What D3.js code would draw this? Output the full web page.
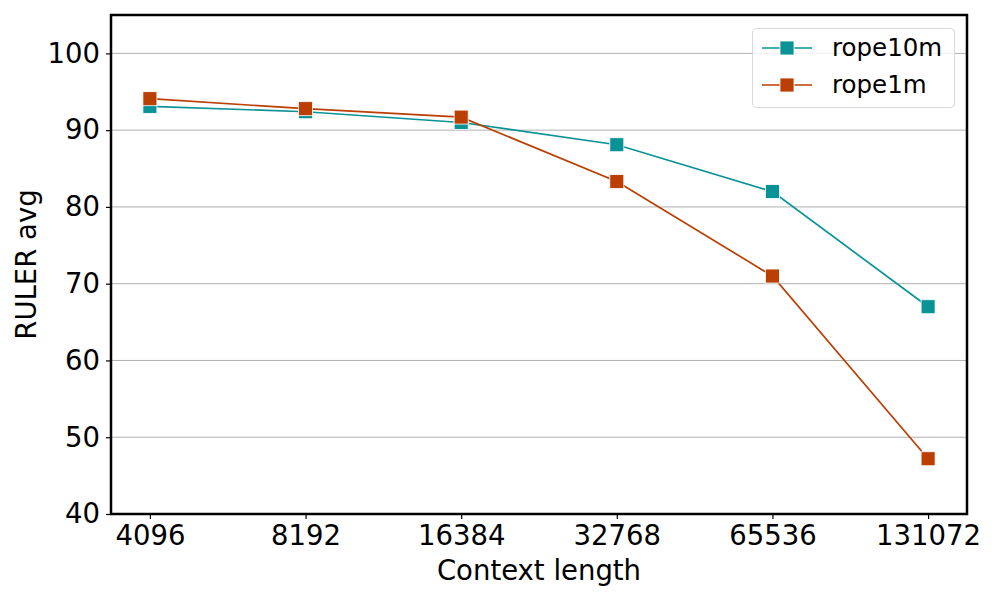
<!DOCTYPE html>
<html><head><meta charset="utf-8">
<script src="https://cdn.jsdelivr.net/npm/d3@7"></script>
<style>body{margin:0;background:#fff;} text{font-family:"DejaVu Sans",sans-serif;}</style>
</head><body>
<svg id="c" width="1000" height="600"></svg>
<script>
const contextLengths = [4096, 8192, 16384, 32768, 65536, 131072];
const rope10m = [93.1, 92.4, 91.0, 88.1, 82.0, 67.0];
const rope1m = [94.1, 92.8, 91.7, 83.3, 71.0, 47.2];
const seriesNames = ["rope10m", "rope1m"];
const seriesColors = ["#0a9396", "#bb3e03"];
const yTicks = [40, 50, 60, 70, 80, 90, 100];

const svg = d3.select("#c");
const L = 111, R = 967, T = 15, B = 514;
const FS = 27.5;
const x = d3.scaleLog().base(2).domain([Math.pow(2, 11.75), Math.pow(2, 17.25)]).range([L, R]);
const y = d3.scaleLinear().domain([40, 105]).range([B, T]);

// grid
svg.append("g").selectAll("line").data(yTicks).join("line")
  .attr("x1", L).attr("x2", R).attr("y1", d => y(d)).attr("y2", d => y(d))
  .attr("stroke", "#b0b0b0").attr("stroke-width", 1);

// axes
const xa = svg.append("g").attr("transform", `translate(0,${B})`)
  .call(d3.axisBottom(x).tickValues(contextLengths).tickFormat(d3.format("d")).tickSize(5).tickPadding(6));
const ya = svg.append("g").attr("transform", `translate(${L},0)`)
  .call(d3.axisLeft(y).tickValues(yTicks).tickSize(5).tickPadding(6));
[xa, ya].forEach(a => {
  a.select(".domain").remove();
  a.selectAll("text").attr("font-size", FS).attr("fill", "#000").style("font-family", "DejaVu Sans");
  a.selectAll("line").attr("stroke", "#000").attr("stroke-width", 1.2);
});

const data = [rope10m, rope1m];
const line = d3.line().x((d, i) => x(contextLengths[i])).y(d => y(d));
data.forEach((vals, si) => {
  svg.append("path").datum(vals).attr("d", line).attr("fill", "none")
    .attr("stroke", seriesColors[si]).attr("stroke-width", 1.7);
  svg.append("g").selectAll("rect").data(vals).join("rect")
    .attr("x", (d, i) => x(contextLengths[i]) - 7).attr("y", d => y(d) - 7)
    .attr("width", 14).attr("height", 14)
    .attr("fill", seriesColors[si]).attr("stroke", "#fff").attr("stroke-width", 0.8);
});

// frame
svg.append("rect").attr("x", L).attr("y", T).attr("width", R - L).attr("height", B - T)
  .attr("fill", "none").attr("stroke", "#000").attr("stroke-width", 2.5);

// titles
svg.append("text").attr("x", (L + R) / 2).attr("y", 580).attr("text-anchor", "middle")
  .attr("font-size", FS).text("Context length");
svg.append("text").attr("transform", `translate(36,${(T + B) / 2}) rotate(-90)`)
  .attr("text-anchor", "middle").attr("font-size", FS).text("RULER avg");

// legend
const lg = svg.append("g");
lg.append("rect").attr("x", 752.5).attr("y", 28.5).attr("width", 202).attr("height", 79).attr("rx", 4)
  .attr("fill", "#fff").attr("fill-opacity", 0.8).attr("stroke", "#d9d9d9");
seriesNames.forEach((n, i) => {
  const yy = 48 + i * 37;
  lg.append("line").attr("x1", 762).attr("x2", 812).attr("y1", yy).attr("y2", yy)
    .attr("stroke", seriesColors[i]).attr("stroke-width", 1.7);
  lg.append("rect").attr("x", 780).attr("y", yy - 7).attr("width", 14).attr("height", 14)
    .attr("fill", seriesColors[i]).attr("stroke", "#fff").attr("stroke-width", 0.8);
  lg.append("text").attr("x", 832).attr("y", yy + 8).attr("font-size", 24.5).text(n);
});
</script>
</body></html>
